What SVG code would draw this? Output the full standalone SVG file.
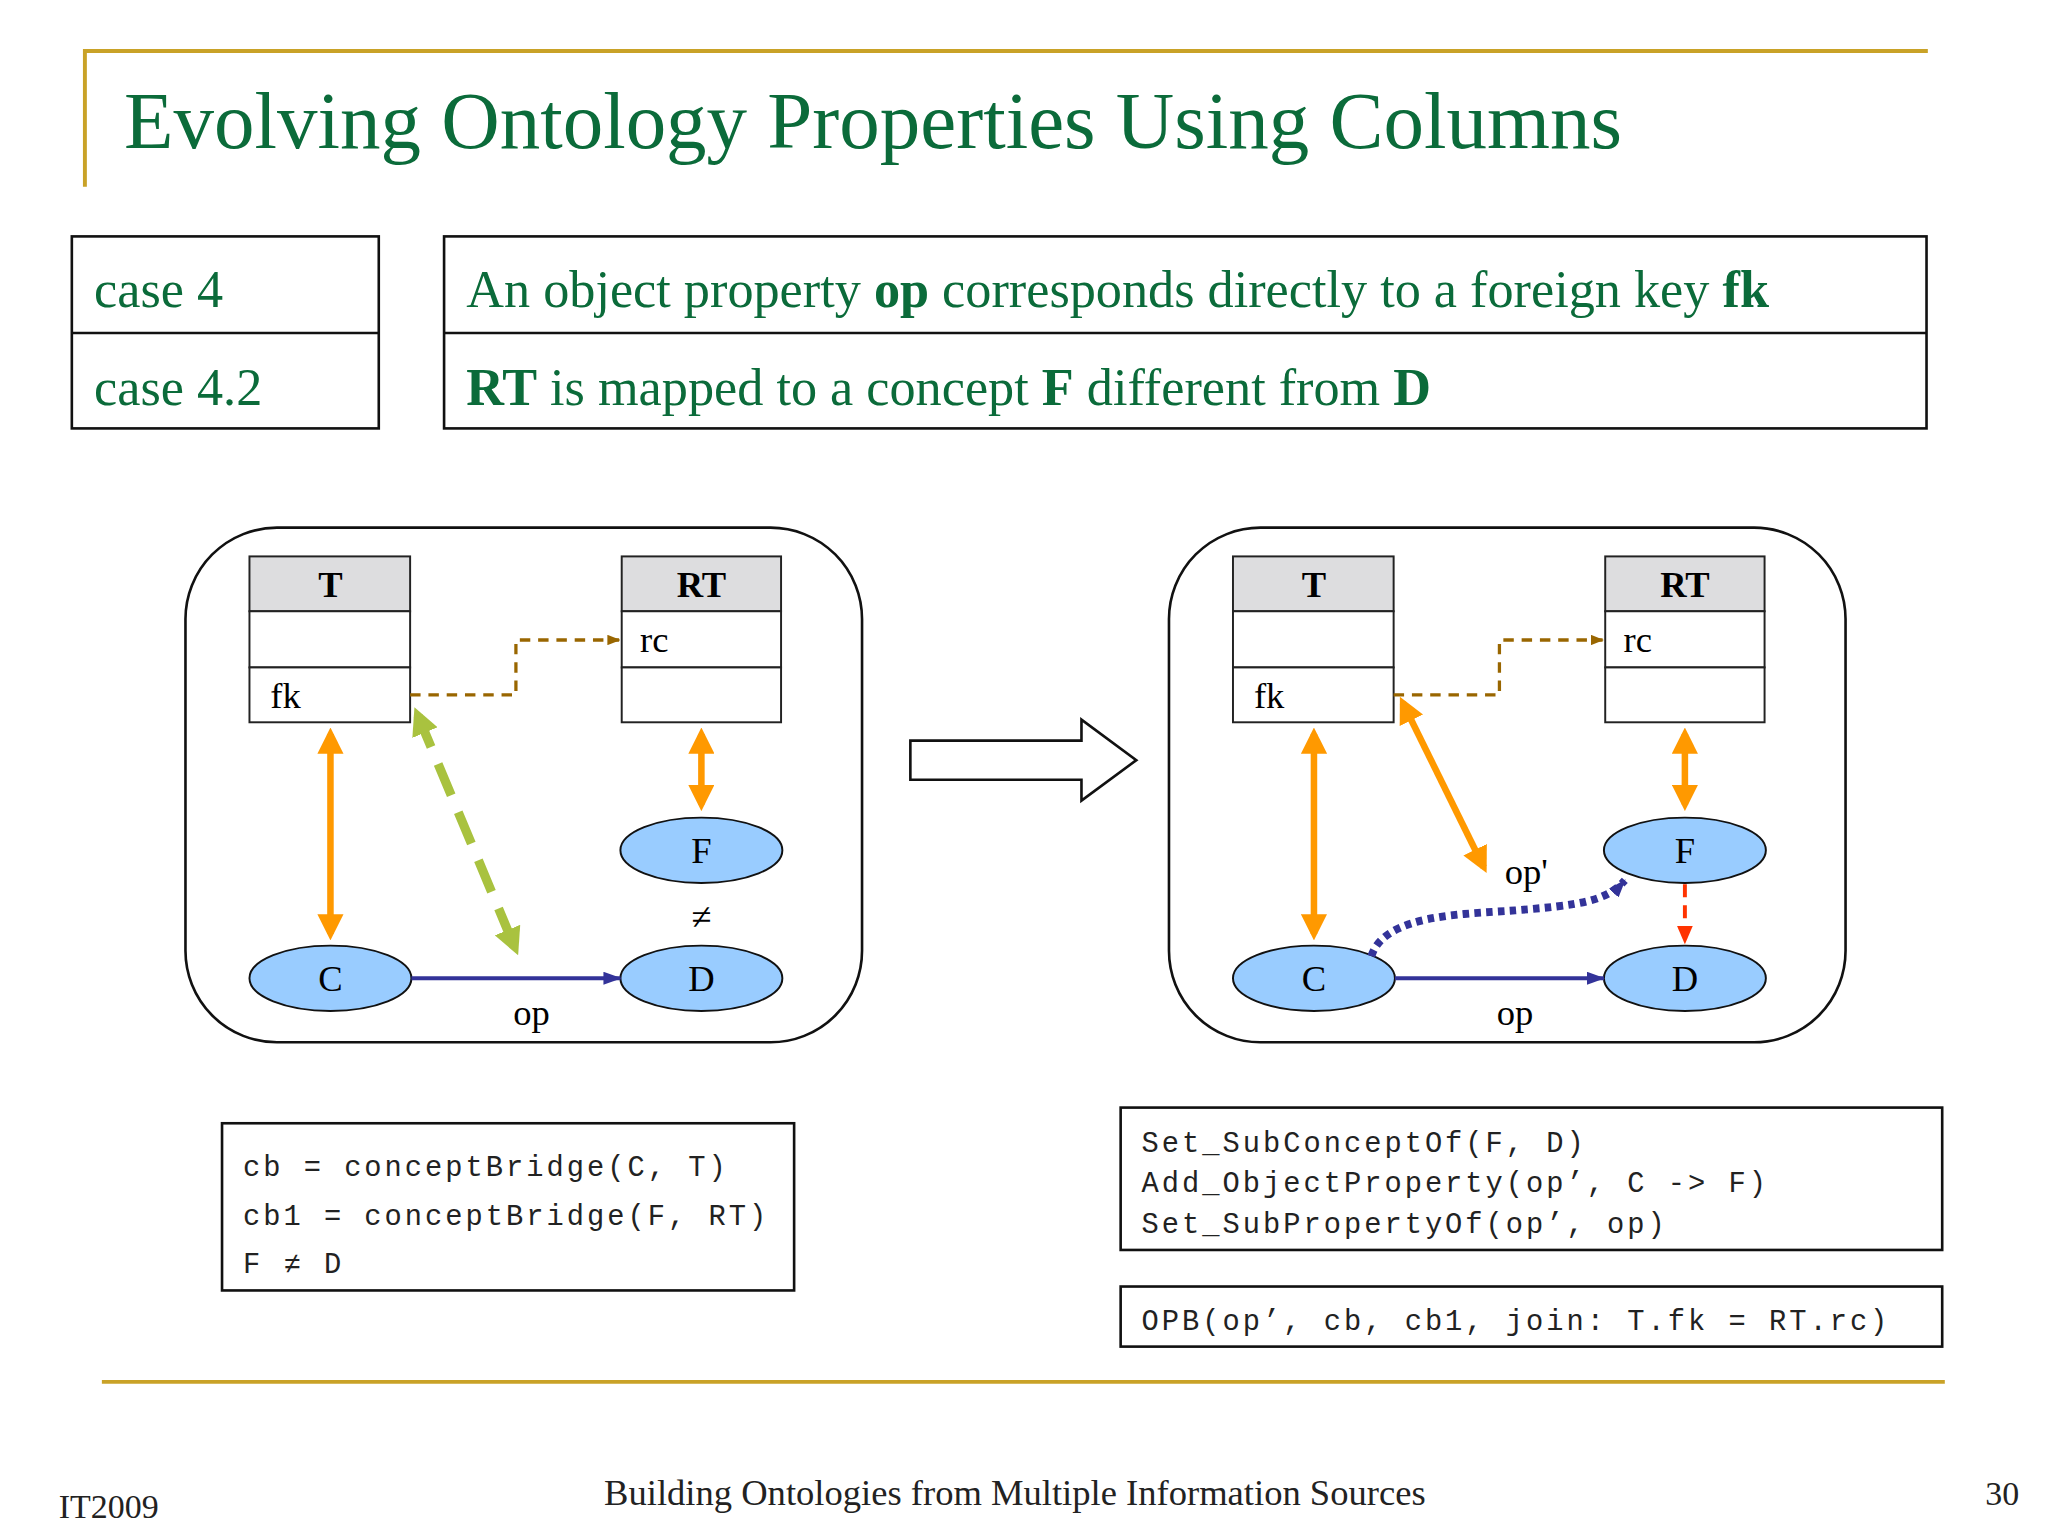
<svg xmlns="http://www.w3.org/2000/svg" width="2048" height="1536" viewBox="0 0 2048 1536">
<style>
.s{font-family:"Liberation Serif",serif}
.g{fill:#0B6B3A}
.m{font-family:"Liberation Mono",monospace;font-size:22px;letter-spacing:2.3px;fill:#222}
.box{fill:none;stroke:#111;stroke-width:2}
.tb{fill:#fff;stroke:#222;stroke-width:1.5}
.hd{fill:#DDDDDF;stroke:#222;stroke-width:1.5}
.el{fill:#99CCFF;stroke:#111;stroke-width:1.5}
.lbl{font-family:"Liberation Serif",serif;font-size:28px;fill:#000}
</style>
<defs>
<marker id="ao" markerWidth="4" markerHeight="4" refX="3" refY="2" orient="auto-start-reverse"><path d="M0,0L4,2L0,4z" fill="#FF9900"/></marker>
<marker id="ab" markerWidth="10" markerHeight="8" refX="9" refY="4" orient="auto" markerUnits="userSpaceOnUse"><path d="M0,0L10,4L0,8z" fill="#996600"/></marker>
<marker id="ag" markerWidth="3" markerHeight="3" refX="2" refY="1.5" orient="auto-start-reverse"><path d="M0,0L3,1.5L0,3z" fill="#A9C23F"/></marker>
<marker id="an" markerWidth="14" markerHeight="10" refX="13" refY="5" orient="auto" markerUnits="userSpaceOnUse"><path d="M0,0L14,5L0,10z" fill="#333399"/></marker>
<marker id="ar" markerWidth="14" markerHeight="12" refX="13" refY="6" orient="auto" markerUnits="userSpaceOnUse"><path d="M0,0L14,6L0,12z" fill="#FF3300"/></marker>
</defs>
<rect width="2048" height="1536" fill="#fff"/>
<g transform="scale(1.30612)">
<g id="title">
<path d="M65,143V39H1476" fill="none" stroke="#C9A227" stroke-width="3"/>
<text x="95" y="113" class="s g" font-size="62">Evolving Ontology Properties Using Columns</text>
</g>
<g id="cases">
<rect x="55" y="181" width="235" height="147" class="box"/><line x1="55" y1="255" x2="290" y2="255" stroke="#111" stroke-width="2"/>
<rect x="340" y="181" width="1135" height="147" class="box"/><line x1="340" y1="255" x2="1475" y2="255" stroke="#111" stroke-width="2"/>
<text x="72" y="235" class="s g" font-size="40">case 4</text>
<text x="72" y="310" class="s g" font-size="40">case 4.2</text>
<text x="357" y="235" class="s g" font-size="40">An object property <tspan font-weight="bold">op</tspan> corresponds directly to a foreign key <tspan font-weight="bold">fk</tspan></text>
<text x="357" y="310" class="s g" font-size="40"><tspan font-weight="bold">RT</tspan> is mapped to a concept <tspan font-weight="bold">F</tspan> different from <tspan font-weight="bold">D</tspan></text>
</g>
<g id="left">
<rect x="142" y="404" width="518" height="394" rx="70" class="box"/>
<g id="lT"><rect x="191" y="426" width="123" height="42" class="hd"/><rect x="191" y="468" width="123" height="43" class="tb"/><rect x="191" y="511" width="123" height="42" class="tb"/>
<text x="253" y="457" class="lbl" font-weight="bold" font-size="26" text-anchor="middle">T</text><text x="207" y="542" class="lbl" font-size="26">fk</text></g>
<g id="lRT"><rect x="476" y="426" width="122" height="42" class="hd"/><rect x="476" y="468" width="122" height="43" class="tb"/><rect x="476" y="511" width="122" height="42" class="tb"/>
<text x="537" y="457" class="lbl" font-weight="bold" font-size="26" text-anchor="middle">RT</text><text x="490" y="499" class="lbl" font-size="26">rc</text></g>
<g id="lF"><ellipse cx="537" cy="651" rx="62" ry="25" class="el"/><text x="537" y="661" class="lbl" text-anchor="middle">F</text></g>
<g id="lD"><ellipse cx="537" cy="749" rx="62" ry="25" class="el"/><text x="537" y="759" class="lbl" text-anchor="middle">D</text></g>
<g id="lC"><ellipse cx="253" cy="749" rx="62" ry="25" class="el"/><text x="253" y="759" class="lbl" text-anchor="middle">C</text></g>
<text x="537" y="711" class="lbl" font-size="34" text-anchor="middle">≠</text>
</g>
<g id="right">
<rect x="895" y="404" width="518" height="394" rx="70" class="box"/>
<g id="rT"><rect x="944" y="426" width="123" height="42" class="hd"/><rect x="944" y="468" width="123" height="43" class="tb"/><rect x="944" y="511" width="123" height="42" class="tb"/>
<text x="1006" y="457" class="lbl" font-weight="bold" font-size="26" text-anchor="middle">T</text><text x="960" y="542" class="lbl" font-size="26">fk</text></g>
<g id="rRT"><rect x="1229" y="426" width="122" height="42" class="hd"/><rect x="1229" y="468" width="122" height="43" class="tb"/><rect x="1229" y="511" width="122" height="42" class="tb"/>
<text x="1290" y="457" class="lbl" font-weight="bold" font-size="26" text-anchor="middle">RT</text><text x="1243" y="499" class="lbl" font-size="26">rc</text></g>
<g id="rF"><ellipse cx="1290" cy="651" rx="62" ry="25" class="el"/><text x="1290" y="661" class="lbl" text-anchor="middle">F</text></g>
<g id="rD"><ellipse cx="1290" cy="749" rx="62" ry="25" class="el"/><text x="1290" y="759" class="lbl" text-anchor="middle">D</text></g>
<g id="rC"><ellipse cx="1006" cy="749" rx="62" ry="25" class="el"/><text x="1006" y="759" class="lbl" text-anchor="middle">C</text></g>
</g>
<g id="bigarrow"><path d="M697,567H828V551L870,582L828,613V597H697Z" fill="#fff" stroke="#111" stroke-width="2"/></g>
<g id="connectors">
<path d="M314,532H395V490H474" fill="none" stroke="#996600" stroke-width="2.5" stroke-dasharray="8,6" marker-end="url(#ab)"/>
<path d="M1067,532H1148V490H1227" fill="none" stroke="#996600" stroke-width="2.5" stroke-dasharray="8,6" marker-end="url(#ab)"/>
<line x1="253" y1="562" x2="253" y2="715" stroke="#FF9900" stroke-width="5" marker-start="url(#ao)" marker-end="url(#ao)"/>
<line x1="537" y1="562" x2="537" y2="616" stroke="#FF9900" stroke-width="5" marker-start="url(#ao)" marker-end="url(#ao)"/>
<line x1="1006" y1="562" x2="1006" y2="715" stroke="#FF9900" stroke-width="5" marker-start="url(#ao)" marker-end="url(#ao)"/>
<line x1="1290" y1="562" x2="1290" y2="616" stroke="#FF9900" stroke-width="5" marker-start="url(#ao)" marker-end="url(#ao)"/>
<line x1="1074" y1="538" x2="1136" y2="664" stroke="#FF9900" stroke-width="5" marker-start="url(#ao)" marker-end="url(#ao)"/>
<line x1="320" y1="548" x2="394" y2="725" stroke="#A9C23F" stroke-width="7" stroke-dasharray="26,14" marker-start="url(#ag)" marker-end="url(#ag)"/>
<line x1="315" y1="749" x2="475" y2="749" stroke="#333399" stroke-width="3" marker-end="url(#an)"/>
<line x1="1068" y1="749" x2="1228" y2="749" stroke="#333399" stroke-width="3" marker-end="url(#an)"/>
<path d="M1050,732C1060,700 1120,700 1160,697C1210,693 1230,690 1244,674" fill="none" stroke="#333399" stroke-width="6" stroke-dasharray="5,4" marker-end="url(#an)"/>
<line x1="1290" y1="677" x2="1290" y2="722" stroke="#FF3300" stroke-width="3" stroke-dasharray="10,6" marker-end="url(#ar)"/>
<text x="407" y="785" class="lbl" text-anchor="middle">op</text>
<text x="1160" y="785" class="lbl" text-anchor="middle">op</text>
<text x="1152" y="677" class="lbl">op'</text>
</g>
<g id="code">
<rect x="170" y="860" width="438" height="128" class="box"/>
<text x="186" y="900" class="m">cb = conceptBridge(C, T)</text>
<text x="186" y="938" class="m">cb1 = conceptBridge(F, RT)</text>
<text x="186" y="975" class="m">F ≠ D</text>
<rect x="858" y="848" width="629" height="109" class="box"/>
<text x="874" y="882" class="m">Set_SubConceptOf(F, D)</text>
<text x="874" y="913" class="m">Add_ObjectProperty(op’, C -&gt; F)</text>
<text x="874" y="944" class="m">Set_SubPropertyOf(op’, op)</text>
<rect x="858" y="985" width="629" height="46" class="box"/>
<text x="874" y="1018" class="m">OPB(op’, cb, cb1, join: T.fk = RT.rc)</text>
</g>
<g id="footer">
<line x1="78" y1="1058" x2="1489" y2="1058" stroke="#C9A227" stroke-width="3"/>
<text x="45" y="1162" class="s" font-size="26" fill="#222">IT2009</text>
<text x="777" y="1152" class="s" font-size="28" fill="#222" text-anchor="middle">Building Ontologies from Multiple Information Sources</text>
<text x="1546" y="1152" class="s" font-size="26" fill="#222" text-anchor="end">30</text>
</g>
</g>
</svg>
